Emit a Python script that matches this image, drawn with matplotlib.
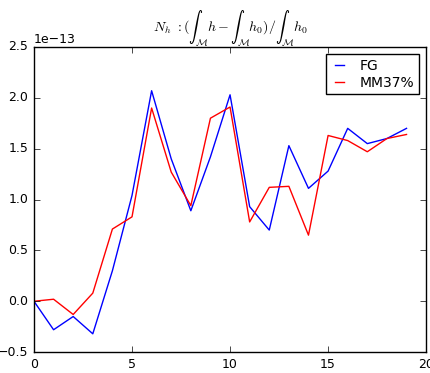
import matplotlib
matplotlib.use("Agg")
import matplotlib.pyplot as plt

plt.style.use('classic')
plt.rcParams['mathtext.fontset'] = 'cm'

time = list(range(20))
fg = [0.0, -0.28, -0.15, -0.32, 0.30, 1.04, 2.07, 1.40, 0.89, 1.42,
      2.03, 0.93, 0.70, 1.53, 1.11, 1.28, 1.70, 1.55, 1.60, 1.70]
mm37 = [0.0, 0.02, -0.13, 0.08, 0.71, 0.83, 1.90, 1.27, 0.94, 1.80,
        1.91, 0.78, 1.12, 1.13, 0.65, 1.63, 1.58, 1.47, 1.60, 1.64]
scale = 1e-13

fig = plt.figure(figsize=(4.3, 3.73), dpi=100, facecolor='white')
ax = fig.add_axes([0.079, 0.056, 0.912, 0.818])
ax.plot(time, [v * scale for v in fg], 'b-', label='FG', lw=1)
ax.plot(time, [v * scale for v in mm37], 'r-', label='MM37%', lw=1)
ax.set_xlim(0, 20)
ax.set_ylim(-0.5e-13, 2.5e-13)
ax.set_xlabel('time', fontsize=9)
ax.set_title(r'$N_h\ :(\int_\mathcal{M} h - \int_\mathcal{M} h_0)/\int_\mathcal{M} h_0$',
             fontsize=10, y=1.03)
ax.tick_params(labelsize=9)
ax.yaxis.get_offset_text().set_fontsize(9)
ax.legend(loc='upper right', fontsize=10, handlelength=1.3,
          borderaxespad=0.5, labelspacing=0.2, borderpad=0.35)

fig.savefig('out.png', dpi=100, facecolor='white')
